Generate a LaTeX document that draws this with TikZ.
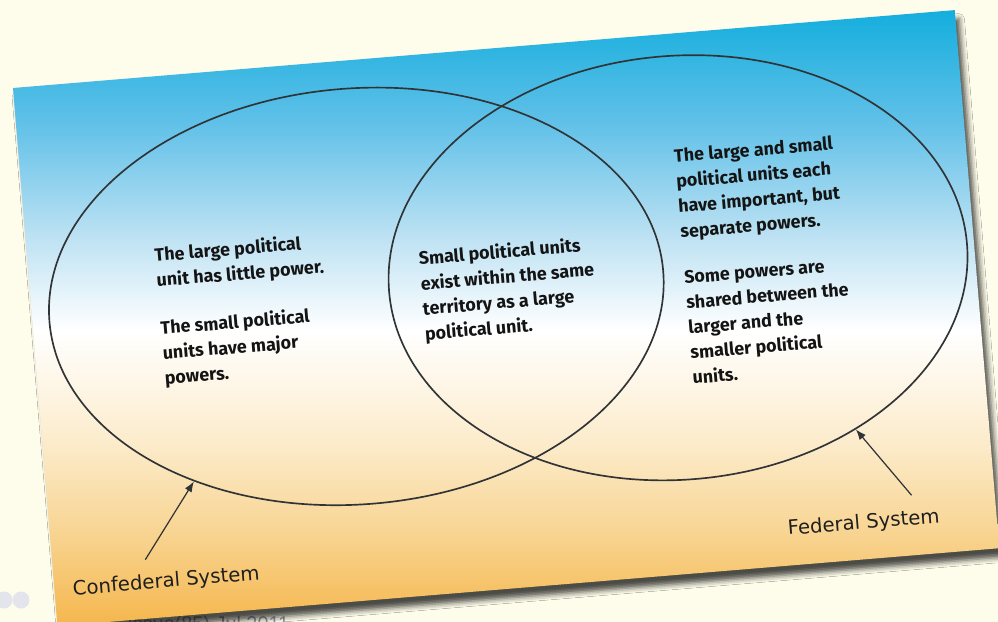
\documentclass[tikz,border=0pt]{standalone}
\usepackage{fontspec}
\setmainfont{Fira Sans}
\newfontfamily\labelfont{DejaVu Sans}
\newfontfamily\markfont{Liberation Sans}
\usetikzlibrary{shapes.geometric,shadows.blur,arrows.meta}

\definecolor{paper}{RGB}{254,252,234}
\definecolor{skyblue}{RGB}{20,174,221}
\definecolor{midsky}{RGB}{95,192,232}
\definecolor{palesky}{RGB}{190,226,243}
\definecolor{palecream}{RGB}{252,236,204}
\definecolor{peach}{RGB}{248,212,145}
\definecolor{sandorange}{RGB}{245,182,76}
\definecolor{inkgray}{RGB}{48,52,54}
\definecolor{markgray}{RGB}{150,150,165}
\definecolor{dotgray}{RGB}{228,228,237}

\pgfdeclareverticalshading{cardsky}{100bp}{color(0bp)=(sandorange); color(25bp)=(sandorange);
        color(32.5bp)=(peach); color(40bp)=(palecream); color(49bp)=(white);
        color(56.5bp)=(palesky); color(66bp)=(midsky); color(75bp)=(skyblue); color(100bp)=(skyblue)}

\begin{document}
\begin{tikzpicture}[x=0.02cm,y=-0.02cm,
        venn/.style={ellipse,draw=inkgray,line width=0.95pt,inner sep=0pt},
        note/.style={anchor=north west,align=left,inner sep=0pt,text=black!92,
                font=\bfseries\fontsize{10.2}{14.3}\selectfont},
        tag/.style={text=black!88,font=\labelfont\fontsize{11.2}{13}\selectfont},
        pointer/.style={draw=inkgray,line width=0.7pt,-{Latex[length=6pt,width=4.5pt]}}]

        \fill[paper] (0,0) rectangle (998,622);
        \useasboundingbox (0,0) rectangle (998,622);

        % page marks behind the card
        \fill[dotgray] (4,600) circle (8.5);
        \fill[dotgray] (21,600) circle (8.5);
        \node[anchor=base west,inner sep=0pt,text=markgray,font=\markfont\fontsize{11.3}{13}\selectfont] (issue) at (127,630) {Issue(85) Jul 2011};

        \begin{scope}[shift={(13,88)},rotate=4.73,transform shape]
        \shade[shading=cardsky,
                blur shadow={shadow xshift=2.5pt,shadow yshift=-5pt,shadow blur radius=3pt,shadow opacity=70}]
                (0,0) rectangle (945,540);

        \node[venn,minimum width=12.32cm,minimum height=8.32cm] (confed) at (325,236) {};
        \node[venn,minimum width=11.6cm,minimum height=8.48cm] (fed) at (648,234) {};

        \node[note] (confText) at (127,170) {The large political\\unit has little power.\\[13pt]The small political\\units have major\\powers.};
        \node[note] (bothText) at (390,195) {Small political units\\exist within the same\\territory as a large\\political unit.};
        \node[note] (fedText) at (653,115) {The large and small\\political units each\\have important, but\\separate powers.\\[12pt]Some powers are\\shared between the\\larger and the\\smaller political\\units.};

        \node[tag] (confLabel) at (112,505) {Confederal System};
        \node[tag] (fedLabel) at (812,504) {Federal System};
        \coordinate (confTail) at (93,481);
        \coordinate (fedTail) at (862,480);

        \draw[pointer] (confTail) -- (confed.224);
        \draw[pointer] (fedTail) -- (fed.-47);
        \end{scope}
\end{tikzpicture}
\end{document}
